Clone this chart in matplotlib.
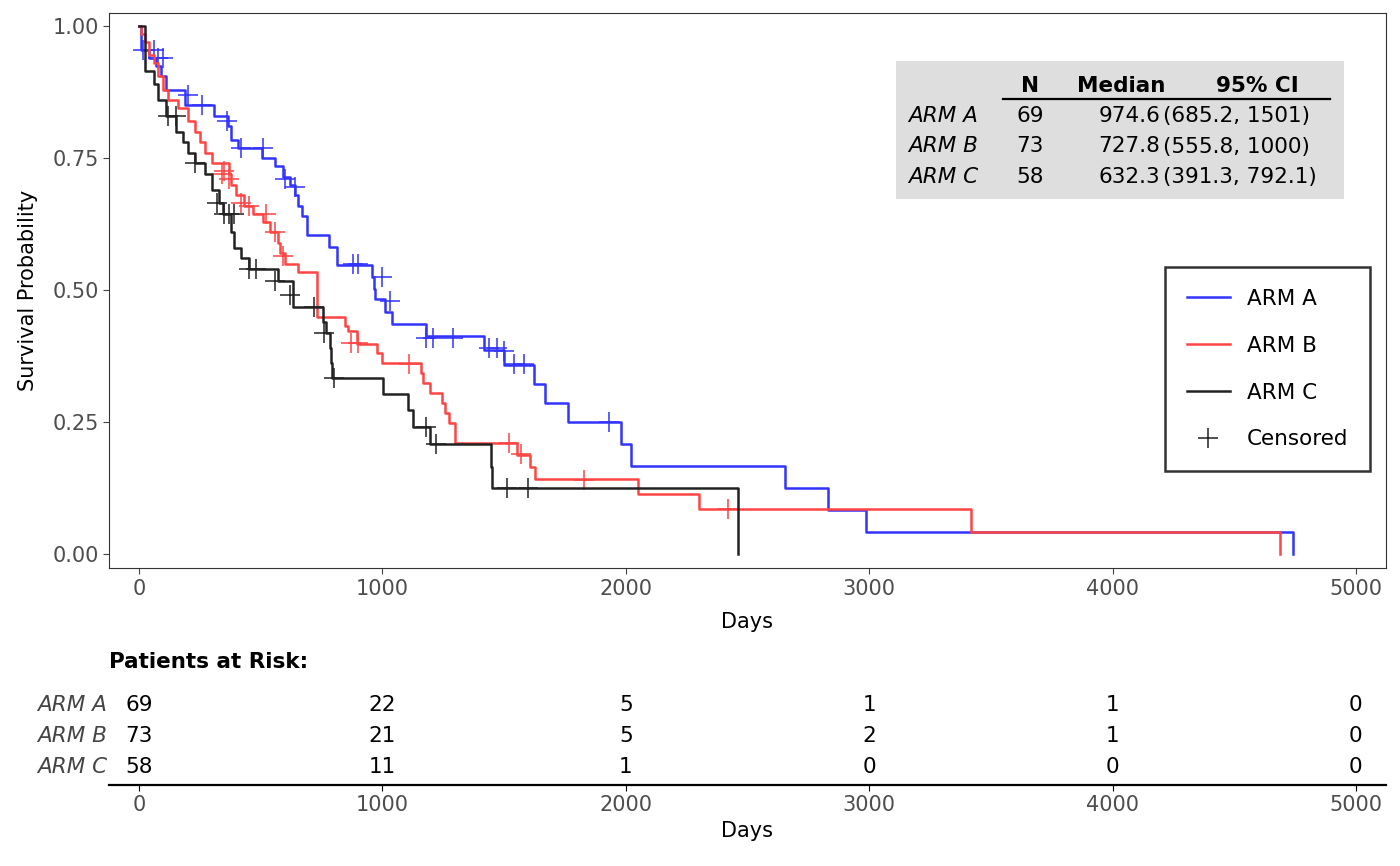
import matplotlib
matplotlib.use("Agg")
import matplotlib.pyplot as plt
import numpy as np

arms = ["ARM A", "ARM B", "ARM C"]
colors = ["#3333FF", "#FF4444", "#222222"]

a_t = [0, 10, 40, 70, 90, 110, 190, 310, 365, 380, 405, 505, 560, 590, 620, 640, 655, 670, 690, 780, 813, 957, 965, 970, 1010, 1040, 1178, 1417, 1500, 1623, 1668, 1763, 1980, 2020, 2655, 2830, 2985, 4740]
a_s = [1.0, 0.955, 0.94, 0.925, 0.905, 0.88, 0.85, 0.83, 0.81, 0.785, 0.77, 0.75, 0.735, 0.715, 0.70, 0.68, 0.66, 0.64, 0.604, 0.582, 0.547, 0.525, 0.503, 0.483, 0.459, 0.436, 0.413, 0.386, 0.358, 0.322, 0.286, 0.25, 0.208, 0.166, 0.125, 0.083, 0.042, 0.0]
b_t = [0, 10, 25, 40, 60, 80, 100, 120, 160, 200, 230, 250, 270, 300, 370, 380, 400, 430, 470, 510, 540, 570, 580, 600, 655, 730, 845, 860, 895, 977, 1000, 1160, 1167, 1195, 1245, 1257, 1274, 1298, 1553, 1606, 1627, 2050, 2300, 3420, 4690]
b_s = [1.0, 0.985, 0.97, 0.945, 0.93, 0.905, 0.88, 0.86, 0.845, 0.82, 0.80, 0.78, 0.76, 0.74, 0.72, 0.70, 0.68, 0.66, 0.645, 0.63, 0.61, 0.59, 0.57, 0.55, 0.534, 0.449, 0.432, 0.422, 0.398, 0.381, 0.362, 0.343, 0.324, 0.305, 0.286, 0.267, 0.248, 0.21, 0.188, 0.165, 0.142, 0.113, 0.085, 0.042, 0.0]
c_t = [0, 25, 60, 80, 110, 150, 180, 200, 230, 270, 300, 330, 345, 380, 390, 420, 450, 571, 633, 756, 770, 785, 790, 793, 1003, 1105, 1126, 1195, 1446, 1450, 2460]
c_s = [1.0, 0.915, 0.89, 0.86, 0.83, 0.80, 0.78, 0.76, 0.74, 0.72, 0.69, 0.665, 0.645, 0.61, 0.58, 0.56, 0.54, 0.517, 0.468, 0.44, 0.418, 0.39, 0.362, 0.333, 0.303, 0.273, 0.241, 0.208, 0.165, 0.125, 0.0]

a_ct = [15, 60, 80, 100, 200, 260, 360, 420, 510, 600, 640, 880, 900, 1000, 1030, 1180, 1210, 1290, 1440, 1470, 1500, 1540, 1580, 1930]
a_cs = [0.955, 0.955, 0.94, 0.94, 0.87, 0.85, 0.82, 0.77, 0.77, 0.71, 0.695, 0.55, 0.55, 0.525, 0.48, 0.41, 0.41, 0.41, 0.39, 0.39, 0.385, 0.36, 0.36, 0.25]
b_ct = [340, 350, 370, 420, 450, 520, 560, 590, 870, 900, 1110, 1520, 1570, 1830, 2420]
b_cs = [0.72, 0.725, 0.71, 0.665, 0.66, 0.645, 0.61, 0.565, 0.40, 0.40, 0.36, 0.21, 0.19, 0.14, 0.085]
c_ct = [120, 150, 230, 320, 350, 370, 390, 450, 480, 560, 620, 720, 760, 800, 1180, 1220, 1510, 1600]
c_cs = [0.83, 0.83, 0.74, 0.665, 0.645, 0.645, 0.645, 0.54, 0.54, 0.517, 0.49, 0.468, 0.418, 0.333, 0.24, 0.208, 0.125, 0.125]

stat_n = [69, 73, 58]
stat_median = ["974.6", "727.8", "632.3"]
stat_ci = ["(685.2, 1501)", "(555.8, 1000)", "(391.3, 792.1)"]

risk_times = [0, 1000, 2000, 3000, 4000, 5000]
risk_a = [69, 22, 5, 1, 1, 0]
risk_b = [73, 21, 5, 2, 1, 0]
risk_c = [58, 11, 1, 0, 0, 0]

ticks = [0, 1000, 2000, 3000, 4000, 5000]
yticks = [0, 0.25, 0.5, 0.75, 1.0]
ytlabels = ["0.00", "0.25", "0.50", "0.75", "1.00"]

plt.rcParams['font.family'] = ['DejaVu Sans']
fig = plt.figure(figsize=(14, 8.66), dpi=100)
ax = fig.add_axes([0.0779, 0.344, 0.912, 0.641])
curves = [(a_t, a_s, a_ct, a_cs), (b_t, b_s, b_ct, b_cs), (c_t, c_s, c_ct, c_cs)]
for (t, s, ct, cs), col, name in zip(curves, colors, arms):
    ax.step(t, s, where="post", color=col, lw=1.8, label=name)
    ax.plot(ct, cs, ls="none", marker="+", ms=14, mew=1.1, color=col)
ax.plot([], [], ls="none", marker="+", ms=14, mew=1.1, color="#222222", label="Censored")
ax.set_xlim(-123, 5123)
ax.set_ylim(-0.0265, 1.025)
ax.set_xticks(ticks)
ax.set_yticks(yticks)
ax.set_yticklabels(ytlabels)
ax.tick_params(labelsize=15, colors="#444444", length=4)
ax.tick_params(axis="both", labelcolor="#4d4d4d")
ax.set_xlabel("Days", fontsize=15, labelpad=10)
ax.set_ylabel("Survival Probability", fontsize=15, labelpad=10)
for sp in ax.spines.values():
    sp.set_color("#333333")
leg = ax.legend(loc="upper left", bbox_to_anchor=(0.827, 0.542), borderaxespad=0, fontsize=15.5,
                frameon=True, fancybox=False, edgecolor="black", handlelength=2, labelspacing=1.25,
                borderpad=1.0)
leg.get_frame().set_linewidth(1.8)

# stats table
fig.patches.append(plt.Rectangle((896/1400, 1-199/866), 448/1400, 138/866, transform=fig.transFigure,
                                 facecolor="#DEDEDE", edgecolor="none", zorder=0))
def fy(p): return 1 - p/866
def fx(p): return p/1400
fig.text(fx(1030), fy(86), "N", ha="center", va="center", fontsize=15.5, fontweight="bold")
fig.text(fx(1121), fy(86), "Median", ha="center", va="center", fontsize=15.5, fontweight="bold")
fig.text(fx(1257), fy(86), "95% CI", ha="center", va="center", fontsize=15.5, fontweight="bold")
fig.add_artist(plt.Line2D([fx(1003), fx(1330)], [fy(99), fy(99)], color="black", lw=1.6))
for i, (nm, n, med, ci) in enumerate(zip(arms, stat_n, stat_median, stat_ci)):
    y = fy(116 + 30.5 * i)
    fig.text(fx(908), y, nm, ha="left", va="center", fontsize=15.5, style="italic")
    fig.text(fx(1030), y, str(n), ha="center", va="center", fontsize=15.5)
    fig.text(fx(1160), y, med, ha="right", va="center", fontsize=15.5)
    fig.text(fx(1163), y, ci, ha="left", va="center", fontsize=15.5)

# risk table
rax = fig.add_axes([0.0779, 1 - 785/866, 0.912, 95/866])
rax.set_xlim(-123, 5123)
rax.set_ylim(0, 95)
for sp in ["top", "left", "right"]:
    rax.spines[sp].set_visible(False)
rax.spines["bottom"].set_linewidth(1.6)
rax.set_yticks([])
rax.set_xticks(ticks)
rax.tick_params(labelsize=15, labelcolor="#4d4d4d", length=4)
rax.set_xlabel("Days", fontsize=15)
for i, (nm, vals) in enumerate(zip(arms, [risk_a, risk_b, risk_c])):
    yy = 95 - (705 + 31 * i - 690)
    rax.text(-130, yy, nm, ha="right", va="center", fontsize=15.5, style="italic", color="#444444")
    for t, v in zip(risk_times, vals):
        rax.text(t, yy, str(v), ha="center", va="center", fontsize=15.5)
fig.text(fx(109), fy(662), "Patients at Risk:", ha="left", va="center", fontsize=15.5, fontweight="bold")

fig.savefig("out.png", dpi=100)
